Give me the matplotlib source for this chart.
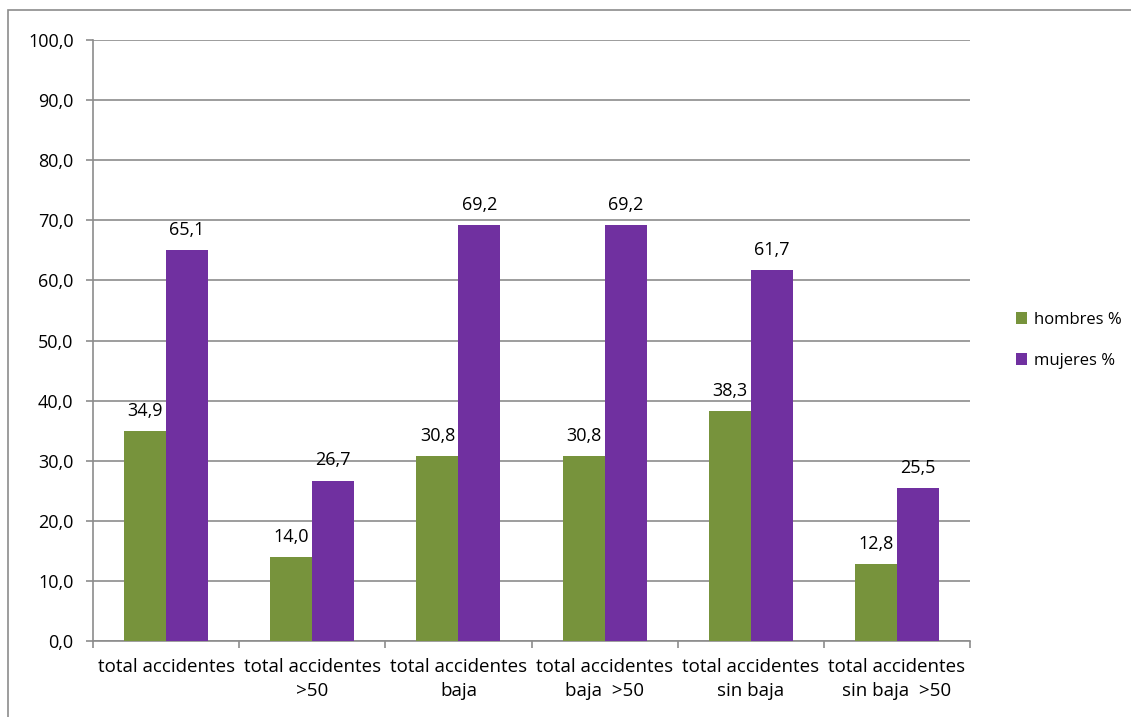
import numpy as np
import matplotlib.pyplot as plt
from matplotlib.patches import Rectangle

categorias = ['total accidentes', 'total accidentes\n>50', 'total accidentes\nbaja',
              'total accidentes\nbaja  >50', 'total accidentes\nsin baja',
              'total accidentes\nsin baja  >50']
hombres = [34.9, 14.0, 30.8, 30.8, 38.3, 12.8]
mujeres = [65.1, 26.7, 69.2, 69.2, 61.7, 25.5]
series = ['hombres %', 'mujeres %']

plt.rcParams['font.family'] = ['Open Sans', 'DejaVu Sans']
gris = '#8c8c8c'
verde = '#77933C'
morado = '#7030A0'

fig = plt.figure(figsize=(11.31, 7.17), dpi=100)
ax = fig.add_axes([93/1131, 76/717, 877/1131, 601/717])

# marco del grafico
fig.patches.append(Rectangle((8/1131, -0.1), 1.2, 0.1 + (717-10)/717, transform=fig.transFigure,
                             fill=False, edgecolor=gris, lw=1.2))

x = np.arange(len(categorias))
w = 0.287
b1 = ax.bar(x - w/2, hombres, w, color=verde, label=series[0], zorder=3)
b2 = ax.bar(x + w/2, mujeres, w, color=morado, label=series[1], zorder=3)

for bars in (b1, b2):
    for r in bars:
        v = r.get_height()
        ax.annotate(f'{v:.1f}'.replace('.', ','), (r.get_x() + r.get_width()/2, v),
                    xytext=(0, 8), textcoords='offset points', ha='center', va='bottom',
                    fontsize=13)

ax.set_xlim(-0.5, len(categorias) - 0.5)
ax.set_ylim(0, 100)
ax.set_yticks(np.arange(0, 101, 10))
ax.set_yticklabels([f'{t:.1f}'.replace('.', ',') for t in np.arange(0, 101, 10)], fontsize=13)
ax.yaxis.grid(True, color=gris, lw=1.2, zorder=0)

ax.set_xticks(np.arange(-0.5, len(categorias)), minor=False)
ax.set_xticklabels([])
ax.set_xticks(x, minor=True)
ax.set_xticklabels(categorias, minor=True, fontsize=13.5, linespacing=1.45)
ax.tick_params(axis='x', which='minor', length=0, pad=12)
ax.tick_params(axis='x', which='major', length=5, color=gris, width=1.2)
ax.tick_params(axis='y', length=5, color=gris, width=1.2, pad=9)

for s in ['top', 'right']:
    ax.spines[s].set_visible(False)
for s in ['left', 'bottom']:
    ax.spines[s].set_color(gris)
    ax.spines[s].set_linewidth(1.2)

ax.legend(loc='center left', bbox_to_anchor=(1.035, 0.5), frameon=False, fontsize=12,
          handlelength=0.7, handleheight=0.7, handletextpad=0.4, labelspacing=1.5)

fig.savefig('out.png', dpi=100)
